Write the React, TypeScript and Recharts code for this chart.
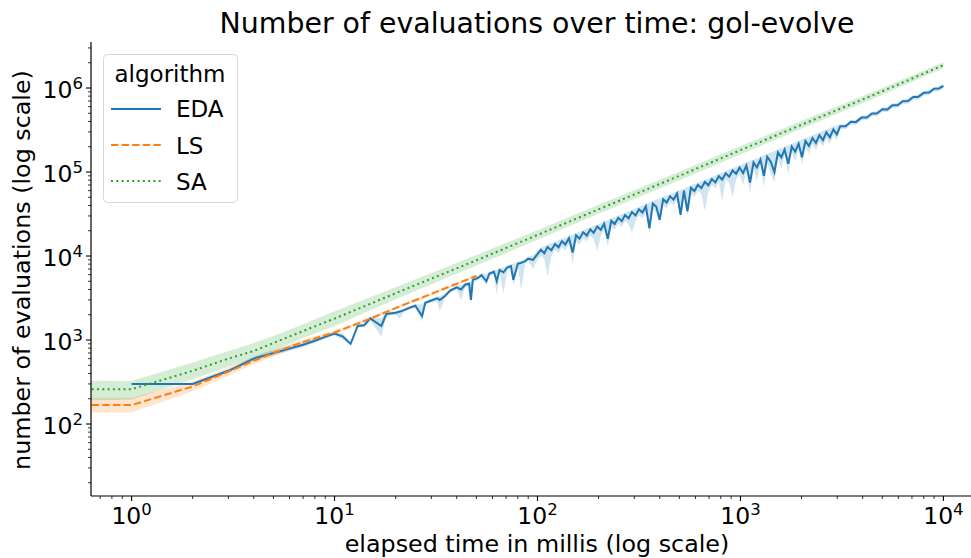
import React from "react"
import { Area, ComposedChart, Line, XAxis, YAxis } from "recharts"

// matplotlib tab10 colours used by seaborn
const BLUE = "#1f77b4"
const ORANGE = "#ff7f0e"
const GREEN = "#2ca02c"
const FONT = "DejaVu Sans, sans-serif"

// [elapsed millis, mean evaluations, band low, band high]
// the 0 ms sample cannot sit on a log axis, so it is kept at 0.5 and clipped
type Row = [number, number, number, number]

const SA: Row[] = [
  [0.5, 260, 190, 330],
  [1, 260, 195, 325],
  [2, 430, 340, 540],
  [3, 600, 480, 740],
  [4, 740, 600, 920],
  [5, 920, 750, 1120],
  [7, 1280, 1060, 1540],
  [10, 1800, 1470, 2200],
  [20, 3600, 3050, 4250],
  [50, 8900, 7700, 10300],
  [100, 17800, 15600, 20300],
  [200, 36000, 31800, 40700],
  [500, 90000, 80000, 101000],
  [1000, 182000, 162000, 204000],
  [2000, 365000, 328000, 404000],
  [5000, 915000, 830000, 1000000],
  [10000, 1870000, 1720000, 2020000],
]

const LS: Row[] = [
  [0.5, 168, 137, 205],
  [1, 168, 137, 205],
  [2, 280, 245, 320],
  [3, 420, 375, 470],
  [4, 565, 515, 620],
  [5, 700, 645, 760],
  [7, 950, 890, 1015],
  [10, 1230, 1160, 1300],
  [15, 1800, 1720, 1880],
  [20, 2400, 2300, 2500],
  [30, 3550, 3420, 3680],
  [40, 4680, 4530, 4830],
  [50, 5780, 5600, 5950],
]

const EDA: Row[] = [
  [1, 300, 292, 308],
  [2, 300, 292, 308],
  [3, 430, 410, 450],
  [4, 600, 570, 640],
  [5, 700, 650, 760],
  [6, 790, 740, 860],
  [7, 880, 820, 950],
  [8, 980, 930, 1040],
  [9, 1090, 1040, 1140],
  [10, 1190, 1130, 1250],
  [11, 1100, 1000, 1200],
  [12, 900, 880, 920],
  [13, 1470, 1400, 1540],
  [14, 1500, 1430, 1570],
  [15, 1810, 1700, 1900],
  [17, 1470, 1100, 1800],
  [18, 2040, 1950, 2130],
  [20, 2110, 2000, 2220],
  [21, 2180, 1800, 2300],
  [22, 2270, 2150, 2380],
  [23, 2380, 2260, 2500],
  [25, 2560, 2430, 2690],
  [27, 1930, 1650, 2650],
  [28, 2780, 2650, 2920],
  [30, 2950, 2800, 3100],
  [32, 3130, 2900, 3300],
  [33, 3000, 2200, 3350],
  [35, 3340, 3150, 3500],
  [37, 3860, 3650, 4050],
  [40, 4230, 4000, 4450],
  [42, 4000, 3000, 4500],
  [44, 4550, 4300, 4800],
  [46, 4700, 4400, 4950],
  [47, 3000, 2700, 4900],
  [48, 5200, 4900, 5450],
  [51, 5500, 5200, 5800],
  [53, 5920, 5600, 6200],
  [56, 5000, 4500, 6100],
  [58, 6200, 5800, 6500],
  [61, 6500, 6100, 6850],
  [63, 5000, 3400, 6800],
  [65, 6800, 6400, 7150],
  [68, 6400, 3600, 7300],
  [71, 7300, 6900, 7700],
  [74, 7600, 7150, 8000],
  [76, 5200, 4400, 8100],
  [80, 8100, 7600, 8550],
  [83, 8300, 3900, 8800],
  [87, 8700, 8200, 9200],
  [90, 9300, 8800, 9800],
  [95, 9000, 7000, 10200],
  [100, 10500, 9000, 11500],
  [104, 11860, 10100, 12600],
  [108, 10800, 9200, 13100],
  [112, 12770, 5700, 13600],
  [117, 11700, 9900, 14200],
  [122, 13910, 11800, 14800],
  [127, 12700, 10800, 15400],
  [132, 15050, 12800, 16000],
  [137, 13700, 11600, 16600],
  [143, 16300, 13900, 17300],
  [149, 11000, 8000, 18000],
  [155, 17670, 15000, 18800],
  [161, 16100, 13700, 19500],
  [168, 19150, 16300, 20300],
  [175, 17500, 14900, 21200],
  [182, 20750, 17600, 22000],
  [189, 18900, 16100, 22900],
  [197, 22460, 11500, 23800],
  [205, 20500, 17400, 24800],
  [213, 24280, 20600, 25800],
  [222, 16000, 13000, 26900],
  [231, 26330, 22400, 28000],
  [240, 24000, 20400, 29000],
  [250, 28500, 24200, 30300],
  [260, 26000, 22100, 31500],
  [270, 30780, 26200, 32700],
  [281, 28100, 23900, 34000],
  [292, 33290, 19000, 35300],
  [304, 30400, 25800, 36800],
  [316, 36020, 30600, 38200],
  [329, 32900, 28000, 39800],
  [342, 38990, 33100, 41400],
  [356, 21400, 19000, 43100],
  [370, 42180, 35900, 44800],
  [385, 38500, 32700, 46600],
  [400, 27000, 24000, 48400],
  [416, 47420, 40300, 50300],
  [433, 43300, 36800, 52400],
  [450, 51300, 43600, 54500],
  [468, 46800, 39800, 56600],
  [487, 55520, 47200, 58900],
  [507, 31000, 28000, 61300],
  [527, 60080, 51100, 63800],
  [548, 34000, 30000, 66300],
  [570, 64980, 55200, 69000],
  [593, 59300, 50400, 71800],
  [617, 70340, 59800, 74700],
  [642, 64200, 54600, 77700],
  [668, 76150, 34000, 80800],
  [695, 69500, 59100, 84100],
  [723, 82420, 70100, 87500],
  [752, 75200, 63900, 91000],
  [782, 89150, 75800, 94600],
  [813, 81300, 45000, 98400],
  [846, 96440, 82000, 102400],
  [880, 88000, 74800, 106500],
  [915, 104300, 50000, 110700],
  [952, 95200, 80900, 115200],
  [990, 112900, 96000, 119800],
  [1030, 96800, 70000, 124600],
  [1070, 119800, 101800, 129500],
  [1115, 75000, 56000, 134900],
  [1160, 129900, 110400, 140400],
  [1205, 113300, 80000, 145800],
  [1255, 140600, 119500, 151900],
  [1305, 90000, 65000, 157900],
  [1355, 151800, 129000, 164000],
  [1410, 132500, 95000, 170600],
  [1470, 100000, 75000, 177900],
  [1530, 171400, 145700, 185100],
  [1590, 149500, 110000, 192400],
  [1650, 184800, 157100, 199700],
  [1720, 125000, 95000, 208100],
  [1790, 200500, 170400, 216600],
  [1860, 174800, 135000, 225100],
  [1935, 216700, 184200, 234100],
  [2010, 150000, 120000, 243200],
  [2090, 234100, 199000, 252900],
  [2175, 204500, 165000, 263200],
  [2265, 253700, 215600, 274100],
  [2355, 221400, 180000, 285000],
  [2450, 274400, 233200, 296500],
  [2550, 239700, 200000, 308600],
  [2650, 296800, 252300, 320700],
  [2760, 259400, 215000, 334000],
  [2870, 321400, 273200, 347300],
  [2985, 280600, 240000, 361200],
  [3100, 350300, 325000, 368000],
  [3300, 351500, 325000, 375000],
  [3500, 395500, 368000, 415000],
  [3700, 392200, 365000, 420000],
  [3950, 444400, 413000, 466000],
  [4200, 445200, 414000, 476000],
  [4450, 498400, 463000, 523000],
  [4700, 495900, 461000, 530000],
  [5000, 557500, 518000, 585000],
  [5300, 556500, 518000, 595000],
  [5600, 621600, 578000, 652000],
  [5950, 624800, 581000, 668000],
  [6300, 696200, 647000, 731000],
  [6700, 700200, 651000, 749000],
  [7100, 781000, 726000, 820000],
  [7500, 780000, 725000, 834000],
  [8000, 876000, 815000, 920000],
  [8500, 884000, 822000, 946000],
  [9000, 981000, 912000, 1030000],
  [9500, 983300, 914000, 1052000],
  [10000, 1060000, 1000000, 1110000],
]

const X_MAJOR = [1, 10, 100, 1000, 10000]
const X_MINOR = [
  0.7, 0.8, 0.9, 2, 3, 4, 5, 6, 7, 8, 9, 20, 30, 40, 50, 60, 70, 80, 90, 200, 300, 400, 500, 600, 700, 800,
  900, 2000, 3000, 4000, 5000, 6000, 7000, 8000, 9000,
]
const Y_MAJOR = [100, 1000, 10000, 100000, 1000000]
const Y_MINOR = [
  20, 30, 40, 50, 60, 70, 80, 90, 200, 300, 400, 500, 600, 700, 800, 900, 2000, 3000, 4000, 5000, 6000, 7000,
  8000, 9000, 20000, 30000, 40000, 50000, 60000, 70000, 80000, 90000, 200000, 300000, 400000, 500000, 600000,
  700000, 800000, 900000, 2000000, 3000000,
]

const X_DOMAIN = [0.631, 15850]
const Y_DOMAIN = [13.9, 3530000]

const LEGEND = [
  { name: "EDA", color: BLUE, dash: undefined },
  { name: "LS", color: ORANGE, dash: "7.4 3.2" },
  { name: "SA", color: GREEN, dash: "2 3.3" },
]

const toRows = (rows: Row[]) => rows.map(([t, v, lo, hi]) => ({ t, v, band: [lo, hi] }))
const saRows = toRows(SA)
const lsRows = toRows(LS)
const edaRows = toRows(EDA)

const exponent = (v: number) => String(Math.round(Math.log10(v)))

function XTick({ x, y, payload }: any) {
  const major = X_MAJOR.includes(payload.value)
  return (
    <g>
      <line x1={x} x2={x} y1={y} y2={y + (major ? 5 : 3)} stroke="#000" strokeWidth={major ? 1.1 : 0.8} />
      {major && (
        <text x={x} y={y + 28} textAnchor="middle" fontSize={23.5} fill="#000" fontFamily={FONT}>
          10
          <tspan dy={-9} fontSize={16.5}>
            {exponent(payload.value)}
          </tspan>
        </text>
      )}
    </g>
  )
}

function YTick({ x, y, payload }: any) {
  const major = Y_MAJOR.includes(payload.value)
  return (
    <g>
      <line x1={x} x2={x - (major ? 5 : 3)} y1={y} y2={y} stroke="#000" strokeWidth={major ? 1.1 : 0.8} />
      {major && (
        <text x={x - 8} y={y + 10} textAnchor="end" fontSize={23.5} fill="#000" fontFamily={FONT}>
          10
          <tspan dy={-9} fontSize={16.5}>
            {exponent(payload.value)}
          </tspan>
        </text>
      )}
    </g>
  )
}

export default function App() {
  return (
    <div
      style={{
        position: "absolute",
        left: 0,
        top: 0,
        width: 971,
        height: 558,
        overflow: "hidden",
        background: "#fff",
        fontFamily: FONT,
      }}
    >
      <ComposedChart width={1000} height={558} margin={{ top: 42, right: 16, bottom: 0, left: 0 }}>
        <XAxis
          dataKey="t"
          type="number"
          scale="log"
          domain={X_DOMAIN}
          allowDataOverflow
          ticks={[...X_MAJOR, ...X_MINOR]}
          interval={0}
          tick={<XTick />}
          tickSize={0}
          tickMargin={0}
          tickLine={false}
          height={62}
          axisLine={{ stroke: "#000", strokeWidth: 1.2 }}
        />
        <XAxis
          xAxisId="top"
          orientation="top"
          type="number"
          scale="log"
          domain={X_DOMAIN}
          allowDataOverflow
          height={0}
          tick={false}
          tickLine={false}
          axisLine={{ stroke: "#8a8a8a", strokeWidth: 2 }}
        />
        <YAxis
          type="number"
          scale="log"
          domain={Y_DOMAIN}
          allowDataOverflow
          ticks={[...Y_MAJOR, ...Y_MINOR]}
          interval={0}
          tick={<YTick />}
          tickSize={0}
          tickMargin={0}
          tickLine={false}
          width={91}
          axisLine={{ stroke: "#000", strokeWidth: 1.2 }}
        />

        <Area data={edaRows} dataKey="band" stroke="none" fill={BLUE} fillOpacity={0.2} isAnimationActive={false} />
        <Area data={lsRows} dataKey="band" stroke="none" fill={ORANGE} fillOpacity={0.2} isAnimationActive={false} />
        <Area data={saRows} dataKey="band" stroke="none" fill={GREEN} fillOpacity={0.2} isAnimationActive={false} />

        <Line data={edaRows} dataKey="v" stroke={BLUE} strokeWidth={2} dot={false} isAnimationActive={false} />
        <Line
          data={lsRows}
          dataKey="v"
          stroke={ORANGE}
          strokeWidth={2}
          strokeDasharray="7.4 3.2"
          dot={false}
          isAnimationActive={false}
        />
        <Line
          data={saRows}
          dataKey="v"
          stroke={GREEN}
          strokeWidth={2}
          strokeDasharray="2 3.3"
          dot={false}
          isAnimationActive={false}
        />
      </ComposedChart>

      <svg width={971} height={558} style={{ position: "absolute", left: 0, top: 0, pointerEvents: "none" }}>
        <text x={537} y={33} textAnchor="middle" fontSize={28.4} fontFamily={FONT} fill="#000">
          Number of evaluations over time: gol-evolve
        </text>
        <text x={537} y={552} textAnchor="middle" fontSize={23.8} fontFamily={FONT} fill="#000">
          elapsed time in millis (log scale)
        </text>
        <text
          x={0}
          y={0}
          transform="translate(30 270) rotate(-90)"
          textAnchor="middle"
          fontSize={23.8}
          fontFamily={FONT}
          fill="#000"
        >
          number of evaluations (log scale)
        </text>

        <rect x={103.5} y={54.5} width={134} height={148} rx={4} fill="#fff" fillOpacity={0.8} stroke="#d8d8d8" />
        <text x={170} y={82} textAnchor="middle" fontSize={23} fontFamily={FONT} fill="#000">
          algorithm
        </text>
        {LEGEND.map((item, i) => (
          <g key={item.name}>
            <line
              x1={111}
              x2={161}
              y1={109 + i * 36}
              y2={109 + i * 36}
              stroke={item.color}
              strokeWidth={2}
              strokeDasharray={item.dash}
            />
            <text x={176} y={117 + i * 36.5} fontSize={23} fontFamily={FONT} fill="#000">
              {item.name}
            </text>
          </g>
        ))}
      </svg>
    </div>
  )
}
